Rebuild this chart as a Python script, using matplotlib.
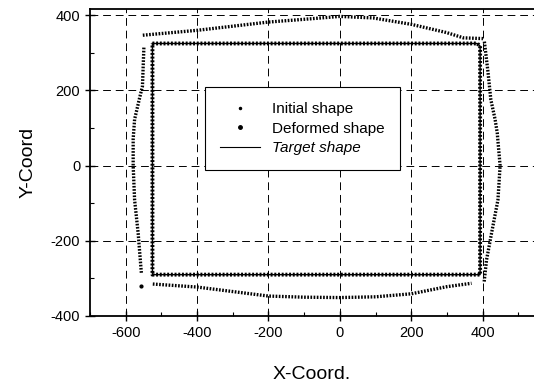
import numpy as np
import matplotlib.pyplot as plt
from matplotlib.lines import Line2D

plt.rcParams['font.family'] = ['Liberation Sans', 'DejaVu Sans']
plt.rcParams['axes.unicode_minus'] = False

# Initial / target shape (rectangle corners)
rect_x = [-525, 385, 393, 393, -525, -525]
rect_y = [325, 325, 318, -290, -290, 325]

# Deformed shape, read along each side
top_x = [-552, -400, -300, -200, -104, 0, 93, 200, 299, 346, 401]
top_y = [347, 360, 371, 382, 389, 397, 393, 376, 354, 340, 338]

right_x = [405, 415, 423, 435, 441, 449, 443, 425, 411, 404]
right_y = [330, 250, 176, 123, 87, 0, -91, -180, -251, -312]

left_x = [-549, -553, -562, -575, -579, -579, -575, -565, -559, -556]
left_y = [314, 211, 176, 123, 71, 0, -91, -180, -251, -286]

bottom_x = [-524, -400, -300, -200, -100, 0, 100, 200, 300, 369]
bottom_y = [-315, -323, -335, -347, -350, -351, -349, -341, -322, -313]

lone_x = [-558]
lone_y = [-320]

fig = plt.figure(figsize=(5.34, 3.87), dpi=100)
ax = fig.add_axes([0.1685, 0.1835, 0.8315, 0.7935])

# target shape (thin line) + initial shape (dots)
ax.plot(rect_x, rect_y, color='black', lw=1.0)
ax.plot(rect_x, rect_y, color='black', lw=2.8, linestyle=(0, (0.5, 0.45)))

# deformed shape
for xs, ys in [(top_x, top_y), (right_x, right_y), (left_x, left_y), (bottom_x, bottom_y)]:
    ax.plot(xs, ys, color='black', lw=2.4, linestyle=(0, (0.5, 0.45)))
ax.plot(lone_x, lone_y, 'o', color='black', ms=2)

ax.set_xlim(-700, 544)
ax.set_ylim(-400, 417)
ax.set_xticks([-600, -400, -200, 0, 200, 400])
ax.set_yticks([-400, -200, 0, 200, 400])
ax.set_xticks(np.arange(-700, 550, 100), minor=True)
ax.set_yticks(np.arange(-400, 420, 100), minor=True)
ax.tick_params(which='major', direction='inout', length=7, width=1, labelsize=10.5)
ax.tick_params(which='minor', direction='in', length=3, width=0.8)
ax.spines['right'].set_visible(False)
for s in ['left', 'bottom', 'top']:
    ax.spines[s].set_linewidth(1.3)

ax.grid(True, which='major', color='black', linestyle=(0, (8, 5)), lw=0.7)

ax.set_xlabel('X-Coord.', fontsize=14, labelpad=19)
ax.set_ylabel('Y-Coord', fontsize=14, labelpad=10)

handles = [
    Line2D([], [], ls='none', marker='.', ms=3, color='black'),
    Line2D([], [], ls='none', marker='.', ms=5, color='black'),
    Line2D([], [], color='black', lw=0.8),
]
leg = ax.legend(handles, ['Initial shape', 'Deformed shape', 'Target shape'],
                loc='upper left', bbox_to_anchor=(0.259, 0.746), fontsize=11,
                frameon=True, fancybox=False, framealpha=1, edgecolor='black',
                handlelength=2.6, borderpad=1.0, labelspacing=0.35,
                borderaxespad=0)
leg.get_frame().set_linewidth(0.8)
leg.get_texts()[2].set_style('italic')

fig.savefig('out.png', dpi=100)
